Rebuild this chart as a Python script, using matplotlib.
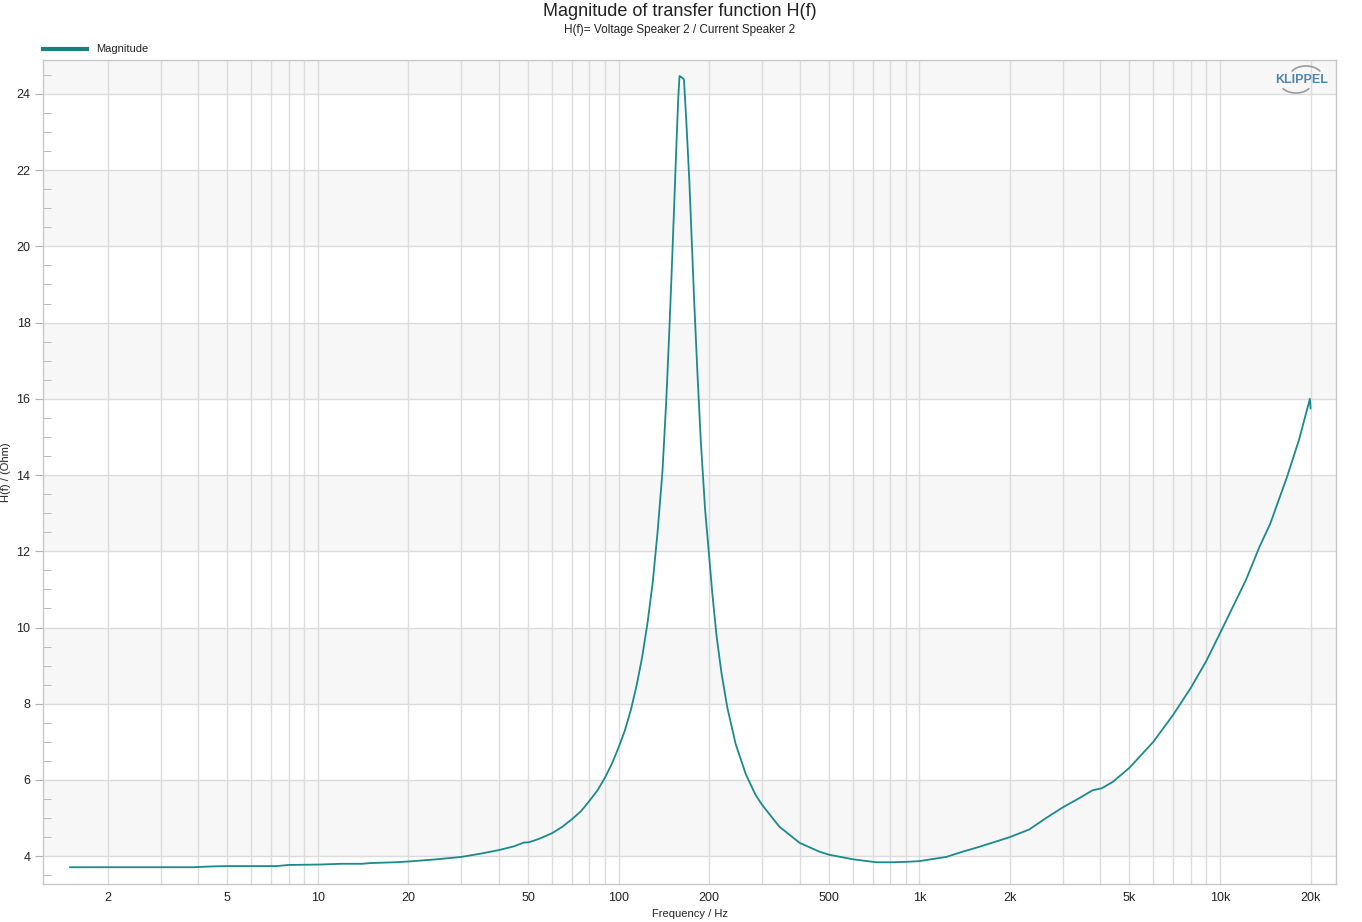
# ===================
# Part 1: Importing Libraries
# ===================
import matplotlib
matplotlib.use("Agg")
import matplotlib.pyplot as plt
from matplotlib.patches import Arc
from matplotlib.ticker import FixedLocator, LogLocator, MultipleLocator, NullFormatter

# ===================
# Part 2: Data Preparation
# ===================
freq_hz = [
    1.5, 2, 3, 3.85, 4.4, 5, 6, 7.3, 8, 10, 11, 12, 14, 15, 18, 20, 25, 30, 35, 40,
    45, 48.5, 50, 52, 55, 60, 65, 70, 75, 80, 85, 90, 95, 100, 105, 110, 115, 120,
    125, 130, 135, 140, 144, 147, 150, 153, 156, 158, 159.5, 161,
    163, 165, 168, 172, 178.4, 182.9, 187.7, 194, 200, 205, 212, 220, 230, 245, 265, 285,
    300, 342, 400, 465, 500, 600, 720, 800, 900, 1000, 1230, 1370, 1590, 2000, 2320,
    2640, 3000, 3400, 3770, 4040, 4400, 5000, 6000, 7000, 8000, 9000, 10000, 12200,
    13500, 14700, 16700, 18300, 19900, 20000,
]
magnitude = [
    3.71, 3.71, 3.71, 3.71, 3.73, 3.74, 3.74, 3.74, 3.77, 3.78, 3.79, 3.80, 3.80, 3.82,
    3.84, 3.86, 3.92, 3.98, 4.07, 4.16, 4.26, 4.36, 4.36, 4.40, 4.47, 4.60, 4.77, 4.97,
    5.18, 5.45, 5.72, 6.05, 6.42, 6.85, 7.30, 7.85, 8.50, 9.25, 10.15, 11.2, 12.55, 14.1,
    15.9, 17.5, 19.2, 21.0, 22.8, 23.9, 24.47, 24.45, 24.42, 24.38, 23.3, 21.7,
    18.6, 16.7, 14.9, 13.1, 11.9, 10.9, 9.75, 8.8, 7.9, 6.95, 6.15, 5.62,
    5.35, 4.78, 4.35, 4.12, 4.04, 3.92, 3.84, 3.84, 3.85, 3.87, 3.98, 4.10, 4.25, 4.50,
    4.70, 5.00, 5.28, 5.52, 5.73, 5.78, 5.95, 6.32, 7.00, 7.72, 8.42, 9.12, 9.85, 11.25,
    12.1, 12.73, 13.95, 14.92, 16.0, 15.75,
]

x_ticks = [2, 5, 10, 20, 50, 100, 200, 500, 1000, 2000, 5000, 10000, 20000]
x_ticklabels = ["2", "5", "10", "20", "50", "100", "200", "500", "1k", "2k", "5k", "10k", "20k"]
y_ticks = [4, 6, 8, 10, 12, 14, 16, 18, 20, 22, 24]

title = "Magnitude of transfer function H(f)"
subtitle = "H(f)= Voltage Speaker 2 / Current Speaker 2"
xlabel = "Frequency / Hz"
ylabel = "H(f) / (Ohm)"
legend_label = "Magnitude"

# ===================
# Part 3: Plot Configuration and Rendering
# ===================
plt.rcParams["font.family"] = ["Liberation Sans", "DejaVu Sans"]
line_color = "#1b8a8a"
grid_color = "#dcdcdc"
text_color = "#222222"

fig = plt.figure(figsize=(13.62, 9.22), dpi=100)
ax = fig.add_axes([43 / 1362, 1 - 884 / 922, (1336 - 43) / 1362, (884 - 60) / 922])

# alternating horizontal bands
for lo in range(4, 24, 4):
    ax.axhspan(lo, lo + 2, color="#f7f7f7", zorder=0, lw=0)
ax.axhspan(24, 30, color="#f7f7f7", zorder=0, lw=0)

ax.plot(freq_hz, magnitude, color=line_color, lw=1.3, zorder=3)

ax.set_xscale("log")
ax.set_xlim(1.22, 24300)
ax.set_ylim(3.27, 24.89)

ax.xaxis.set_major_locator(FixedLocator(x_ticks))
ax.set_xticklabels(x_ticklabels)
ax.xaxis.set_minor_locator(LogLocator(base=10, subs=range(1, 10), numticks=20))
ax.xaxis.set_minor_formatter(NullFormatter())
ax.tick_params(axis="x", which="both", length=0, pad=6, labelsize=9, labelcolor=text_color)

ax.yaxis.set_major_locator(FixedLocator(y_ticks))
ax.yaxis.set_minor_locator(MultipleLocator(0.5))
ax.tick_params(axis="y", which="major", direction="out", length=6, color="#b0b0b0",
               pad=3, labelsize=9, labelcolor=text_color)
ax.tick_params(axis="y", which="minor", direction="in", length=6, color="#b0b0b0")

ax.grid(True, axis="x", which="both", color=grid_color, lw=1.0, zorder=1)
ax.grid(True, axis="y", which="major", color=grid_color, lw=1.0, zorder=1)
ax.set_axisbelow(True)

for side in ["left", "right", "top", "bottom"]:
    ax.spines[side].set_color("#c8c8c8")
    ax.spines[side].set_linewidth(1.0)

ax.set_xlabel(xlabel, fontsize=8, color=text_color, labelpad=3)
ax.set_ylabel(ylabel, fontsize=8, color=text_color, labelpad=4)

# titles
fig.text(680 / 1362, 1 - 11 / 922, title, ha="center", va="center", fontsize=13, color=text_color)
fig.text(680 / 1362, 1 - 30 / 922, subtitle, ha="center", va="center", fontsize=8.5, color=text_color)

# legend above the axes
fig.add_artist(plt.Line2D([43 / 1362, 87 / 1362], [1 - 49 / 922, 1 - 49 / 922],
                          color="#1a7f7f", lw=3, transform=fig.transFigure))
fig.text(96 / 1362, 1 - 49 / 922, legend_label, ha="left", va="center", fontsize=8, color=text_color)

# logo
fig.text(1302 / 1362, 1 - 80 / 922, "KLIPPEL", ha="center", va="center", fontsize=9,
         fontweight="bold", color="#4f86ad")
fig.add_artist(Arc((1306 / 1362, 1 - 76 / 922), 32 / 1362, 20 / 922, theta1=25, theta2=155,
                   color="#9a9a9a", lw=1.2, transform=fig.transFigure))
fig.add_artist(Arc((1296 / 1362, 1 - 84 / 922), 30 / 1362, 18 / 922, theta1=205, theta2=335,
                   color="#9a9a9a", lw=1.2, transform=fig.transFigure))

# ===================
# Part 4: Saving Output
# ===================
fig.savefig("out.png", dpi=100, facecolor="white")
